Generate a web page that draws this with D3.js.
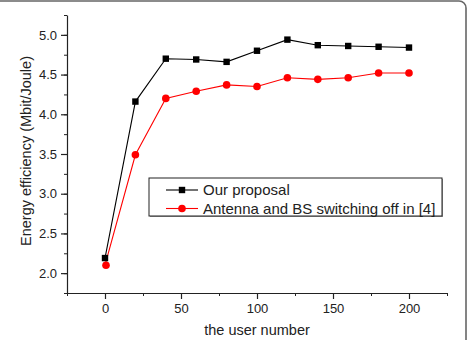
<!DOCTYPE html>
<html>
<head>
<meta charset="utf-8">
<script src="https://cdn.jsdelivr.net/npm/d3@7"></script>
<style>
  body { margin: 0; background: #fff; }
  text { font-family: Arial, "Liberation Sans", sans-serif; fill: #222; }
</style>
</head>
<body>
<div id="chart"></div>
<script>
// data
const userNumbers = [0, 20, 40, 60, 80, 100, 120, 140, 160, 180, 200];
const ourProposal = [2.19, 4.16, 4.70, 4.69, 4.66, 4.80, 4.94, 4.87, 4.86, 4.85, 4.84];
const switchingOff = [2.10, 3.49, 4.20, 4.29, 4.37, 4.35, 4.46, 4.44, 4.46, 4.52, 4.52];
const xTicks = [0, 50, 100, 150, 200];
const yTicks = [2.0, 2.5, 3.0, 3.5, 4.0, 4.5, 5.0];
const seriesNames = ["Our proposal", "Antenna and BS switching off in [4]"];

const W = 470, H = 340;
const margin = {top: 15, right: 23, bottom: 47, left: 67};
const width = W - margin.left - margin.right;
const height = H - margin.top - margin.bottom;

const svg = d3.select("#chart").append("svg")
    .attr("width", W)
    .attr("height", H);

// outer frame (only top and right edges show)
svg.append("rect")
    .attr("x", -10).attr("y", 1)
    .attr("width", 476).attr("height", 360)
    .attr("rx", 7)
    .attr("fill", "none")
    .attr("stroke", "#666")
    .attr("stroke-width", 1.6);

const g = svg.append("g")
    .attr("transform", `translate(${margin.left},${margin.top})`);

const x = d3.scaleLinear().domain([-25, 225]).range([0, width]);
const y = d3.scaleLinear().domain([1.75, 5.25]).range([height, 0]);

// minor ticks
g.append("g")
    .attr("transform", `translate(0,${height})`)
    .call(d3.axisBottom(x).tickValues(d3.range(-25, 226, 25)).tickSize(3).tickFormat(""))
    .call(a => a.select(".domain").remove());
g.append("g")
    .call(d3.axisLeft(y).tickValues(d3.range(1.75, 5.26, 0.25)).tickSize(3).tickFormat(""))
    .call(a => a.select(".domain").remove());

// major ticks + labels
const xAxis = g.append("g")
    .attr("transform", `translate(0,${height})`)
    .call(d3.axisBottom(x).tickValues(xTicks).tickSize(6).tickSizeOuter(0).tickPadding(5));
const yAxis = g.append("g")
    .call(d3.axisLeft(y).tickValues(yTicks).tickFormat(d3.format(".1f")).tickSize(6).tickSizeOuter(0).tickPadding(4));

[xAxis, yAxis].forEach(a => {
    a.selectAll("text").style("font-size", "13px").attr("fill", "#222");
    a.selectAll("line, path").attr("stroke", "#222").attr("stroke-width", 1.2);
});
g.selectAll(".tick line").attr("stroke", "#222");

// axis titles
g.append("text")
    .attr("x", x(100)).attr("y", height + 42)
    .attr("text-anchor", "middle")
    .style("font-size", "14.5px")
    .text("the user number");

g.append("text")
    .attr("transform", "rotate(-90)")
    .attr("x", -height / 2 + 3).attr("y", -36)
    .attr("text-anchor", "middle")
    .style("font-size", "14.5px")
    .text("Energy efficiency (Mbit/Joule)");

const line = d3.line()
    .x((d, i) => x(userNumbers[i]))
    .y(d => y(d));

// red series
g.append("path").datum(switchingOff)
    .attr("fill", "none").attr("stroke", "red").attr("stroke-width", 1.1)
    .attr("d", line);
g.selectAll(".dot").data(switchingOff).enter().append("circle")
    .attr("class", "dot")
    .attr("cx", (d, i) => x(userNumbers[i]) + (i === 0 ? 1 : 0))
    .attr("cy", d => y(d))
    .attr("r", 3.8)
    .attr("fill", "red");

// black series
g.append("path").datum(ourProposal)
    .attr("fill", "none").attr("stroke", "black").attr("stroke-width", 1.1)
    .attr("d", line);
g.selectAll(".sq").data(ourProposal).enter().append("rect")
    .attr("class", "sq")
    .attr("x", (d, i) => x(userNumbers[i]) - 3.2)
    .attr("y", d => y(d) - 3.2)
    .attr("width", 6.4).attr("height", 6.4)
    .attr("fill", "black");

// legend
const lg = svg.append("g").attr("transform", "translate(149,178)");
lg.append("rect").attr("x", 1).attr("y", 1).attr("width", 293).attr("height", 38)
    .attr("fill", "#999");
lg.append("rect").attr("width", 293).attr("height", 38)
    .attr("fill", "white").attr("stroke", "#222").attr("stroke-width", 1);

const rows = [
    {name: seriesNames[0], color: "black", shape: "square", dy: 12},
    {name: seriesNames[1], color: "red", shape: "circle", dy: 30.5}
];
rows.forEach(r => {
    lg.append("line").attr("x1", 17).attr("x2", 49).attr("y1", r.dy).attr("y2", r.dy)
        .attr("stroke", r.color).attr("stroke-width", 1.1);
    if (r.shape === "square") {
        lg.append("rect").attr("x", 33 - 3.2).attr("y", r.dy - 3.2)
            .attr("width", 6.4).attr("height", 6.4).attr("fill", r.color);
    } else {
        lg.append("circle").attr("cx", 33).attr("cy", r.dy).attr("r", 3.8).attr("fill", r.color);
    }
    lg.append("text").attr("x", 54).attr("y", r.dy).attr("dy", "0.36em")
        .style("font-size", "15px")
        .text(r.name);
});
</script>
</body>
</html>
